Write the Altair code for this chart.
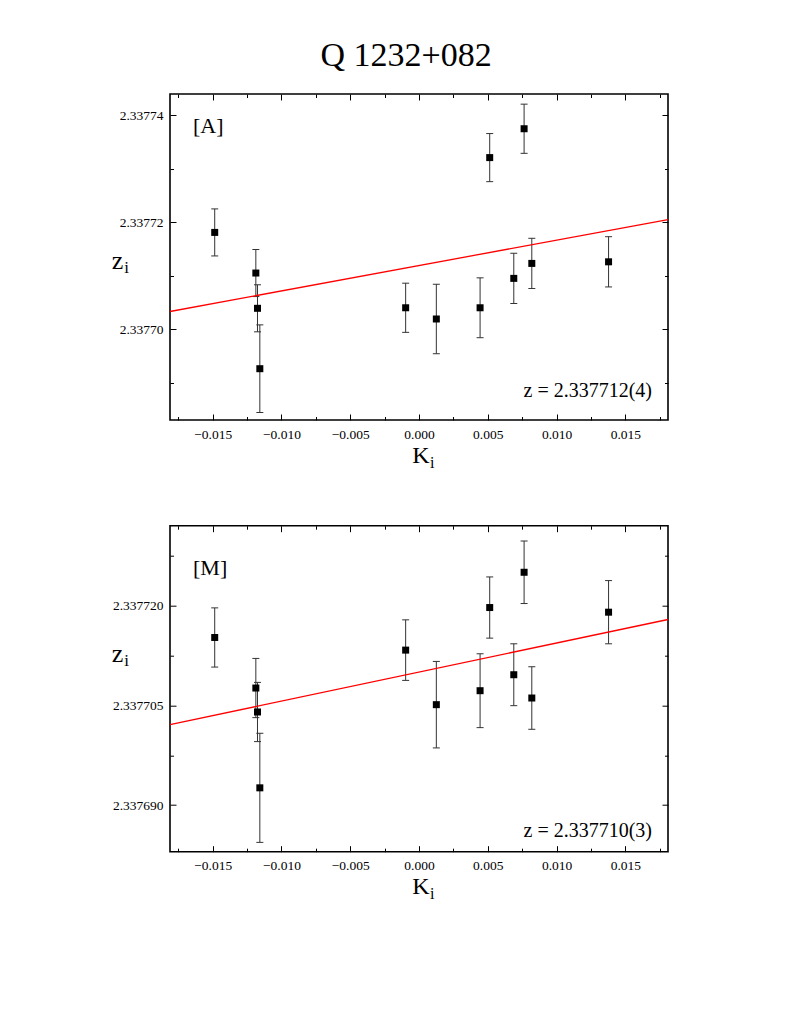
import altair as alt
import pandas as pd

# ---------------- data ----------------
k_values = [-0.01485, -0.01186, -0.01174, -0.01157, -0.00097, 0.00126,
            0.00444, 0.00514, 0.00689, 0.00764, 0.00820, 0.01378]

z_A = [2.3377181, 2.3377105, 2.3377039, 2.3376926, 2.3377040, 2.3377019,
       2.3377040, 2.3377321, 2.3377095, 2.3377375, 2.3377123, 2.3377126]
err_A = [4.4e-6, 4.4e-6, 4.4e-6, 8.2e-6, 4.6e-6, 6.5e-6,
         5.6e-6, 4.5e-6, 4.7e-6, 4.6e-6, 4.7e-6, 4.7e-6]

z_M = [2.3377152, 2.3377076, 2.3377040, 2.3376926, 2.3377133, 2.3377051,
       2.3377072, 2.3377197, 2.3377096, 2.3377250, 2.3377061, 2.3377190]
err_M = [4.45e-6, 4.45e-6, 4.45e-6, 8.2e-6, 4.55e-6, 6.5e-6,
         5.55e-6, 4.6e-6, 4.65e-6, 4.7e-6, 4.7e-6, 4.75e-6]

fit_k = [-0.0181, 0.0181]
fit_A = [2.3377033, 2.3377205]
fit_M = [2.3377021, 2.3377179]

x_major = [-0.015, -0.010, -0.005, 0.0, 0.005, 0.010, 0.015]
x_minor = [-0.0175, -0.0125, -0.0075, -0.0025, 0.0025, 0.0075, 0.0125, 0.0175]
yA_major = [2.33770, 2.33772, 2.33774]
yA_minor = [2.33769, 2.33771, 2.33773]
yM_major = [2.337690, 2.337705, 2.337720]
yM_minor = [2.3376975, 2.3377125, 2.3377275]

x_domain = [-0.0181, 0.0181]
yA_domain = [2.337683, 2.337744]
yM_domain = [2.337683, 2.337732]

title_text = "Q 1232+082"
tag_A = "[A]"
tag_M = "[M]"
ann_A = "z = 2.337712(4)"
ann_M = "z = 2.337710(3)"

# ---------------- style ----------------
FONT = "Liberation Serif"
W, H = 498, 326


def ax(orient, values, size, labels=False, fmt=None):
    kw = dict(orient=orient, values=values, offset=-size, tickSize=size,
              domain=False, grid=False, labels=labels, title=None, ticks=True,
              tickColor="black", tickWidth=1)
    if labels:
        kw.update(format=fmt, labelFont=FONT, labelFontSize=13.5,
                  labelColor="black", labelPadding=7, labelFlush=False,
                  labelOverlap=False)
    return alt.Axis(**kw)


def txt(text, x, y, size, align="left"):
    return alt.Chart(pd.DataFrame({"t": [text]})).mark_text(
        font=FONT, fontSize=size, align=align, baseline="alphabetic",
        color="black").encode(text="t:N", x=alt.value(x), y=alt.value(y))


def panel(z, err, fit, ymaj, ymin, ydom, yfmt, tag, tag_y, ann, ann_y,
          zt_y, kt_y):
    df = pd.DataFrame({
        "k": k_values,
        "z": z,
        "lo": [a - b for a, b in zip(z, err)],
        "hi": [a + b for a, b in zip(z, err)],
    })
    fdf = pd.DataFrame({"k": fit_k, "z": fit})
    xs = alt.Scale(domain=x_domain, nice=False, zero=False)
    ys = alt.Scale(domain=ydom, nice=False, zero=False)
    base = alt.Chart(df)

    bars = base.mark_rule(color="#333333", strokeWidth=1).encode(
        x=alt.X("k:Q", scale=xs, axis=ax("bottom", x_minor, 3.5)),
        y=alt.Y("lo:Q", scale=ys, axis=ax("left", ymin, 3.5)),
        y2="hi:Q")
    cap_hi = base.mark_tick(orient="horizontal", size=7, thickness=1,
                            color="#333333", opacity=1).encode(
        x=alt.X("k:Q", scale=xs, axis=ax("top", x_major, 6)),
        y=alt.Y("hi:Q", scale=ys, axis=ax("right", ymaj, 6)))
    cap_lo = base.mark_tick(orient="horizontal", size=7, thickness=1,
                            color="#333333", opacity=1).encode(
        x=alt.X("k:Q", scale=xs, axis=ax("top", x_minor, 3.5)),
        y=alt.Y("lo:Q", scale=ys, axis=ax("right", ymin, 3.5)))
    line = alt.Chart(fdf).mark_line(color="#ff0000", strokeWidth=1.3).encode(
        x=alt.X("k:Q", scale=xs, axis=None),
        y=alt.Y("z:Q", scale=ys, axis=None))
    points = base.mark_point(shape="square", filled=True, size=49,
                             color="black", opacity=1).encode(
        x=alt.X("k:Q", scale=xs, axis=ax("bottom", x_major, 6, True, ".3f")),
        y=alt.Y("z:Q", scale=ys, axis=ax("left", ymaj, 6, True, yfmt)))

    texts = [
        txt(tag, 23, tag_y, 22),
        txt(ann, 482, ann_y, 20, "right"),
        txt("z", -46.7, zt_y, 26, "right"),
        txt("i", -45.7, zt_y + 4, 17),
        txt("K", 242.3, kt_y, 24),
        txt("i", 260, kt_y + 5, 16),
    ]
    return alt.layer(bars, cap_hi, cap_lo, line, points, *texts).resolve_axis(
        x="independent", y="independent").properties(width=W, height=H)


top = panel(z_A, err_A, fit_A, yA_major, yA_minor, yA_domain, ".5f",
            tag_A, 39, ann_A, 303, 175, 369)
bottom = panel(z_M, err_M, fit_M, yM_major, yM_minor, yM_domain, ".6f",
               tag_M, 49, ann_M, 311, 136, 368)

chart = alt.vconcat(
    top, bottom, spacing=105.7, bounds="flush",
    title=alt.Title(title_text, font=FONT, fontSize=34, fontWeight="normal",
                    color="black", anchor="middle", offset=20, dx=15),
    padding={"left": 102, "top": 30, "right": 5, "bottom": 5},
).configure_view(stroke="black", strokeWidth=1.6)

chart.save("out.html", embed_options={"renderer": "svg", "actions": False})
